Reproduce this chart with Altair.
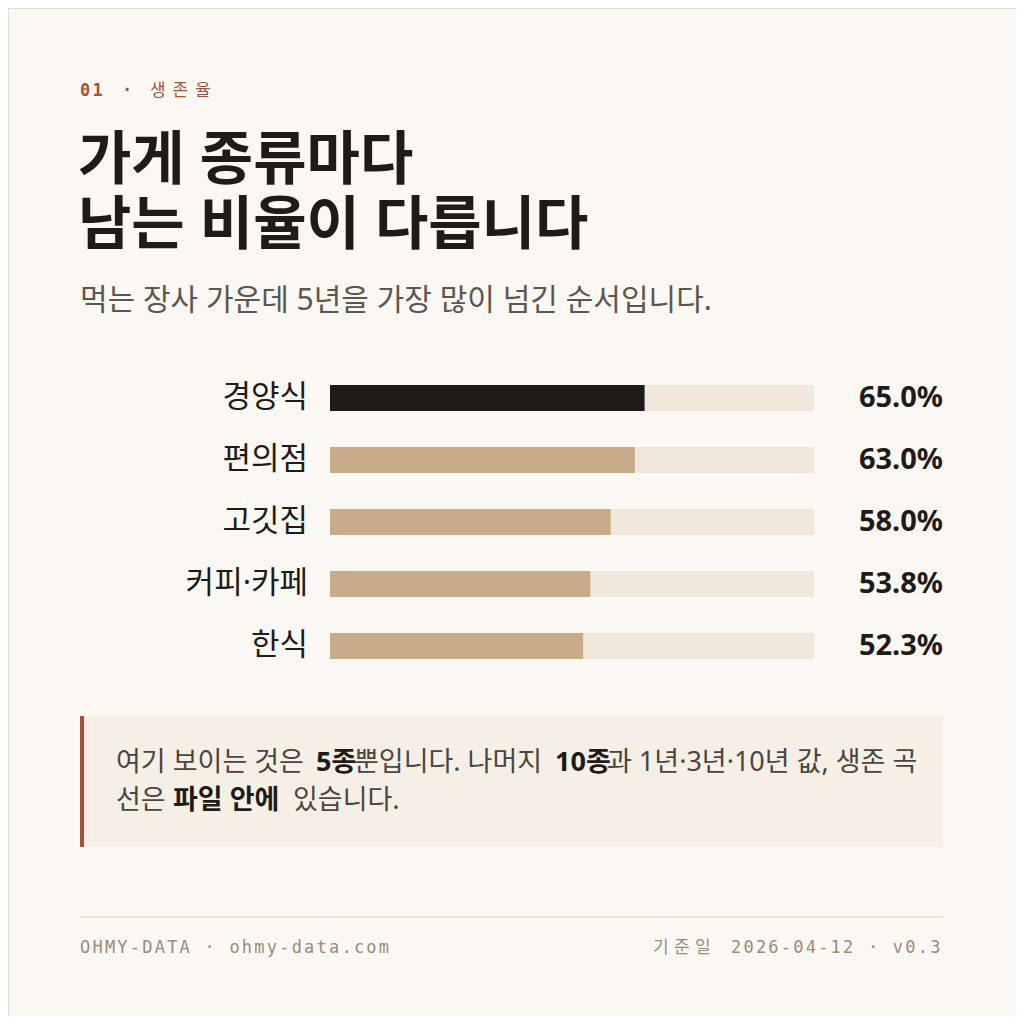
import pandas as pd
import altair as alt

# data
stores = ['경양식', '편의점', '고깃집', '커피·카페', '한식']
survival_5y = [65.0, 63.0, 58.0, 53.8, 52.3]

BG = '#FBF8F3'
INK = '#1F1B18'
TAN = '#C8AC8A'
TRACK = '#F0E8DC'
RUST = '#A6523A'
KR = "'Noto Sans', 'Noto Sans CJK KR'"
MONO = 'DejaVu Sans Mono'
W = H = 1008
OFF = 8  # page margin

df = pd.DataFrame({'store': stores, 'rate': survival_5y, 'full': 100})
df['label'] = df['rate'].map(lambda v: f'{v:.1f}%')
df['top'] = [i == 0 for i in range(len(df))]

x_scale = alt.Scale(domain=[0, 100], range=[330 - OFF, 814 - OFF])
y_scale = alt.Scale(type='point', domain=stores, range=[398 - OFF, 646 - OFF], padding=0)
base = alt.Chart(df)

track = base.mark_rule(strokeWidth=26, color=TRACK, strokeCap='butt').encode(
    x=alt.X('zero:Q', scale=x_scale, axis=None), x2='full:Q',
    y=alt.Y('store:N', scale=y_scale, axis=None)).transform_calculate(zero='0')

bars = base.mark_rule(strokeWidth=26, strokeCap='butt').encode(
    x=alt.X('zero:Q', scale=x_scale, axis=None), x2='rate:Q',
    y=alt.Y('store:N', scale=y_scale, axis=None),
    color=alt.condition(alt.datum.top, alt.value(INK), alt.value(TAN))).transform_calculate(zero='0')

names = base.mark_text(align='right', baseline='middle', font=KR, fontSize=31, color=INK).encode(
    x=alt.value(308 - OFF), y=alt.Y('store:N', scale=y_scale, axis=None), text='store:N')

values = base.mark_text(align='right', baseline='middle', font=KR, fontSize=29, fontWeight='bold', color=INK).encode(
    x=alt.value(943 - OFF), y=alt.Y('store:N', scale=y_scale, axis=None), text='label:N')


def txt(s, x, y, size, color, font=KR, weight='normal', align='left', **kw):
    return alt.Chart(pd.DataFrame({'t': [s]})).mark_text(
        align=align, baseline='middle', font=font, fontSize=size, fontWeight=weight, color=color, **kw
    ).encode(x=alt.value(x - OFF), y=alt.value(y - OFF), text='t:N')


def spaced(s, x, y, pitch, size, color, font=MONO, weight='normal'):
    # monospace text with wide letter spacing, one glyph per row
    chars = pd.DataFrame({'c': list(s), 'px': [x - OFF + i * pitch for i in range(len(s))]})
    chars = chars[chars['c'] != ' ']
    return alt.Chart(chars).mark_text(
        align='left', baseline='middle', font=font, fontSize=size, fontWeight=weight, color=color
    ).encode(x=alt.X('px:Q', scale=None), y=alt.value(y - OFF), text='c:N')


header = [
    spaced('01', 80, 91, 12.4, 17, RUST, MONO, 'bold'),
    txt('·', 127, 91, 17, RUST, MONO, 'bold', 'center'),
    spaced('생존율', 150, 91, 22.5, 17, RUST, "'Noto Sans CJK KR'"),
    txt('가게 종류마다\n남는 비율이 다릅니다', 78, 162, 58, INK, KR, 'bold', lineBreak='\n', lineHeight=65),
    txt('먹는 장사 가운데 5년을 가장 많이 넘긴 순서입니다.', 80, 301, 30, '#5C5650'),
]

box = alt.Chart(pd.DataFrame({'a': [0]})).mark_rect(color='#F6EFE5').encode(
    x=alt.value(80 - OFF), x2=alt.value(943 - OFF), y=alt.value(716 - OFF), y2=alt.value(847 - OFF))
edge = alt.Chart(pd.DataFrame({'a': [0]})).mark_rect(color=RUST).encode(
    x=alt.value(80 - OFF), x2=alt.value(84 - OFF), y=alt.value(716 - OFF), y2=alt.value(847 - OFF))

NOTE = '#4A453F'
note = [
    txt('여기 보이는 것은', 116, 763, 27, NOTE),
    txt('5종', 316, 763, 27, INK, KR, 'bold'),
    txt('뿐입니다. 나머지', 354, 763, 27, NOTE),
    txt('10종', 555, 763, 27, INK, KR, 'bold'),
    txt('과 1년·3년·10년 값, 생존 곡', 607, 763, 27, NOTE),
    txt('선은', 116, 801, 27, NOTE),
    txt('파일 안에', 173, 801, 27, INK, KR, 'bold'),
    txt('있습니다.', 293, 801, 27, NOTE),
]

rule = alt.Chart(pd.DataFrame({'a': [0]})).mark_rule(color='#E6DFD4', strokeWidth=1.5).encode(
    x=alt.value(80 - OFF), x2=alt.value(943 - OFF), y=alt.value(917 - OFF))

FOOT = '#9A8B7A'
footer = [
    spaced('OHMY-DATA · ohmy-data.com', 80, 948, 12.45, 17, FOOT),
    spaced('기준일', 653, 948, 21, 17, FOOT, "'Noto Sans CJK KR'"),
    spaced('2026-04-12 · v0.3', 731, 948, 12.45, 17, FOOT),
]

chart = alt.layer(
    box, edge, rule, track, bars, names, values, *header, *note, *footer
).properties(
    width=W, height=H, autosize=alt.AutoSizeParams(type='none'), padding=0
).configure_view(strokeOpacity=0).configure(background=BG)

chart.save('out.html', embed_options={'renderer': 'svg', 'actions': False})
